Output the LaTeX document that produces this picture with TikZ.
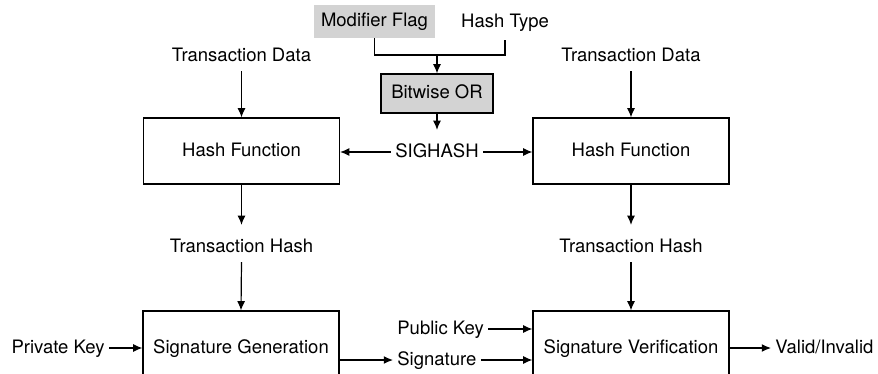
\documentclass[tikz,border=0pt]{standalone}
\usepackage{fontspec}
\setmainfont{TeX Gyre Heros}
\usetikzlibrary{arrows.meta,calc}
\definecolor{boxgray}{HTML}{D3D3D3}
\begin{document}
\begin{tikzpicture}[x=0.5pt,y=-0.5pt,
  every node/.style={font=\fontsize{9.25}{11}\selectfont, text height=0.72em, text depth=0.21em},
  lbl/.style={inner xsep=2pt, inner ysep=2.7pt},
  procbox/.style={draw, line width=0.6pt, minimum width=98pt, minimum height=33pt, inner sep=0pt},
  lowbox/.style={draw, line width=0.6pt, minimum width=98pt, minimum height=37pt, inner sep=0pt},
  arr/.style={line width=0.6pt, -{Latex[length=4.6pt,width=4pt]}},
  ln/.style={line width=0.6pt},
  intext/.style={shorten >=3.5pt}]
\useasboundingbox (0,0) rectangle (878,374);
% top
\node[fill=boxgray, minimum width=60.5pt, minimum height=16.5pt, inner sep=0pt] (mf) at (374.5,21.5) {Modifier Flag};
\node[lbl, inner ysep=4pt] (ht) at (505,22) {Hash Type};
\coordinate (join) at (437,55);
\node[draw, fill=boxgray, line width=0.6pt, minimum width=56pt, minimum height=19.5pt, inner sep=0pt] (bor) at (437,93.5) {Bitwise OR};
\draw[ln] (mf.south) |- (join) -| (ht.south);
\draw[arr] (join) -- (bor.north);
\node[lbl] (sh) at (437,152) {SIGHASH};
\draw[arr,intext] (bor.south) -- (sh.north);
% hash functions
\node[procbox] (hf1) at (241.5,151) {Hash Function};
\node[procbox] (hf2) at (631,151) {Hash Function};
\draw[arr] (sh.west) -- (sh.west -| hf1.east);
\draw[arr] (sh.east) -- (sh.east -| hf2.west);
\node[lbl] (td1) at (241.5,56) {Transaction Data};
\node[lbl] (td2) at (631,56) {Transaction Data};
\draw[arr] (td1.south) -- (hf1.north);
\draw[arr] (td2.south) -- (hf2.north);
\node[lbl] (th1) at (241.5,247) {Transaction Hash};
\node[lbl] (th2) at (631,247) {Transaction Hash};
\draw[arr,intext] (hf1.south) -- (th1.north);
\draw[arr,intext] (hf2.south) -- (th2.north);
% bottom
\node[lowbox] (sg) at (241,348) {Signature Generation};
\node[lowbox] (sv) at (631,348) {Signature Verification};
\draw[arr] (th1.south) -- (sg.north);
\draw[arr] (th2.south) -- (sv.north);
\node[lbl, anchor=east] (pk) at (109,348) {Private Key};
\draw[arr] (pk.east) -- (sg.west);
\node[lbl, anchor=west] (pub) at (393,329) {Public Key};
\node[lbl, anchor=west] (sig) at (393,360) {Signature};
\draw[arr] (sg.east |- sig.west) -- (sig.west);
\draw[arr] (pub.east) -- (pub.east -| sv.west);
\draw[arr] (sig.east) -- (sig.east -| sv.west);
\node[lbl, anchor=west] (vi) at (771,348) {Valid/Invalid};
\draw[arr] (sv.east) -- (vi.west);
\end{tikzpicture}
\end{document}
